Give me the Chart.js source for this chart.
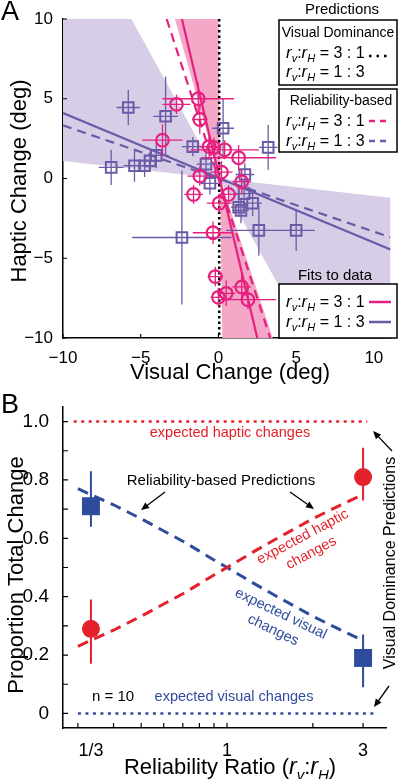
<!DOCTYPE html>
<html>
<head>
<meta charset="utf-8">
<title>Visual and haptic changes</title>
<script src="https://cdn.jsdelivr.net/npm/chart.js@4.4.1/dist/chart.umd.min.js"></script>
<style>
  html, body { margin: 0; padding: 0; background: #fff; }
  body { width: 400px; height: 779px; position: relative; overflow: hidden; }
  .panel { position: absolute; left: 0; width: 400px; }
  #panelA { top: 0; height: 385px; }
  #panelB { top: 385px; height: 394px; }
</style>
</head>
<body>
<div class="panel" id="panelA"><canvas id="chartA"></canvas></div>
<div class="panel" id="panelB"><canvas id="chartB"></canvas></div>
<script>
const FONT = '"Liberation Sans", Arial, Helvetica, sans-serif';

// ---------- Panel A data (deg) ----------
const axisTicksA = [-10, -5, 0, 5, 10];

// rv:rH = 3:1 subjects (pink circles)
const pinkX    = [-1.3, -2.7, -1.2, -3.6, -0.6, -0.3, 0.4, 1.3, 0.2, -1.2, 1.5, -1.6, 0.65, 0.05, -0.35, -0.2, 0.0, 0.5, 1.5, 1.9];
const pinkY    = [5.0, 4.65, 3.7, 2.4, 2.0, 1.95, 1.8, 1.3, 0.4, 0.15, -0.2, -1.0, -1.0, -1.55, -3.4, -6.15, -7.45, -7.2, -6.8, -7.6];
const pinkErrX = [2.3, 0.9, 0.5, 1.3, 0.6, 0.5, 2.2, 2.4, 0.7, 0.8, 0.6, 0.6, 0.6, 0.8, 1.3, 0.5, 0.5, 0.6, 0.6, 1.8];
const pinkErrY = [1.0, 0.6, 0.9, 1.0, 0.8, 0.6, 0.6, 0.8, 0.7, 0.6, 0.8, 0.6, 0.6, 0.6, 0.7, 0.6, 0.6, 0.8, 0.9, 0.6];

// rv:rH = 1:3 subjects (purple squares)
const purpleX    = [-5.8, -3.4, -1.65, -4.0, -4.4, -6.9, -5.4, -4.75, -0.8, 0.3, 3.2, -0.55, 1.7, -2.35, 2.6, 5.0, 1.45, 2.2, 1.65, 1.3];
const purpleY    = [4.45, 3.9, 2.0, 1.45, 1.1, 0.7, 0.8, 0.8, 0.9, 3.15, 1.95, -0.3, 0.25, -3.7, -3.25, -3.25, -2.0, -1.55, -0.95, -1.8];
const purpleErrX = [0.75, 0.8, 0.7, 0.8, 0.6, 0.8, 0.7, 0.6, 0.6, 0.7, 0.6, 0.6, 0.6, 3.2, 2.1, 1.2, 0.5, 0.6, 0.5, 0.5];
const purpleErrY = [1.1, 2.5, 0.6, 0.8, 0.6, 1.1, 1.0, 0.7, 1.0, 1.9, 1.4, 0.7, 0.7, 4.2, 1.6, 1.3, 0.8, 0.8, 0.8, 0.6];

// fitted lines, predictions and confidence wedges
const pinkFitX = [-2.35, 2.5],  pinkFitY = [10, -10];
const pinkPredX = [-3.33, 3.33], pinkPredY = [10, -10];
const purpleFitX = [-10, 11.07], purpleFitY = [4.1, -4.45];
const purplePredX = [-10, 11.07], purplePredY = [3.33, -3.69];
const domX = [0.05, 0.05], domY = [10, -10];
const pinkBandX = [-2.8, 0.0, 0.1, 0.25, 3.5, 0.1];
const pinkBandY = [10, 10, 0, -10, -10, 0];
const purpleBandX = [-10, -5.6, 0.05, 11.07, 11.07, 5.75, 0.05, -10];
const purpleBandY = [10, 10, 0, -1.2, -10, -10, 0, 1.1];

// ---------- Panel B data ----------
const ratioTicks = [1 / 3, 1, 3];
const ratioLabels = ['1/3', '1', '3'];
const ratioMinor = [0.3, 0.4, 0.5, 0.6, 0.7, 0.8, 0.9, 1, 2, 3];
const propTicks = [0, 0.2, 0.4, 0.6, 0.8, 1.0];
const propMinor = [0, 0.1, 0.2, 0.3, 0.4, 0.5, 0.6, 0.7, 0.8, 0.9, 1.0];

const curveX     = [0.3, 0.35, 0.4, 0.5, 0.6, 0.7, 0.8, 0.9, 1, 1.25, 1.5, 1.75, 2, 2.5, 3];
const hapticPred = [0.23, 0.26, 0.285, 0.333, 0.375, 0.41, 0.444, 0.474, 0.5, 0.556, 0.6, 0.636, 0.667, 0.714, 0.75];
const visualPred = [0.77, 0.74, 0.715, 0.667, 0.625, 0.59, 0.556, 0.526, 0.5, 0.444, 0.4, 0.364, 0.333, 0.286, 0.25];
const domHapticX = [0.29, 3.1], domHapticY = [1, 1];
const domVisualX = [0.3, 3.3], domVisualY = [0, 0];

const obsX = [1 / 3, 3];
const hapticObs = [0.29, 0.81], hapticLo = [0.17, 0.73], hapticHi = [0.39, 0.91];
const visualObs = [0.71, 0.19], visualLo = [0.64, 0.09], visualHi = [0.83, 0.27];

const PINK = '#e6207e', PURPLE = '#6b5aa7';
const RED = '#e4202a', BLUE = '#2f4c9c';

const pts = (xs, ys) => xs.map((x, i) => ({ x: x, y: ys[i] }));
const minus = v => String(v).replace('-', '\u2212');

// ---------- helpers ----------
function richText(ctx, parts, x, y, size, align) {
  const fontOf = k => k === 's' ? `italic ${Math.round(size * 0.7)}px ${FONT}`
    : k === 'i' ? `italic ${size + 1}px ${FONT}` : `${size}px ${FONT}`;
  let w = 0;
  parts.forEach(([t, k]) => { ctx.font = fontOf(k); w += ctx.measureText(t).width; });
  let cx = align === 'center' ? x - w / 2 : x;
  ctx.textAlign = 'left';
  ctx.textBaseline = 'alphabetic';
  parts.forEach(([t, k]) => {
    ctx.font = fontOf(k);
    ctx.fillText(t, cx, k === 's' ? y + size * 0.28 : y);
    cx += ctx.measureText(t).width;
  });
}
const ratioParts = (a, b) => [['r', 'i'], ['v', 's'], [':', ''], ['r', 'i'], ['H', 's'], [` = ${a} : ${b}`, '']];

function rotText(ctx, lines, cx, cy, deg, size, color) {
  ctx.save();
  ctx.translate(cx, cy);
  ctx.rotate(deg * Math.PI / 180);
  ctx.font = `${size}px ${FONT}`;
  ctx.fillStyle = color;
  ctx.textAlign = 'center';
  ctx.textBaseline = 'middle';
  const lh = size * 1.25;
  lines.forEach((t, i) => ctx.fillText(t, 0, (i - (lines.length - 1) / 2) * lh));
  ctx.restore();
}

function arrow(ctx, x1, y1, x2, y2) {
  const a = Math.atan2(y2 - y1, x2 - x1), L = 8, W = 3.5;
  const c = Math.cos(a), s = Math.sin(a);
  ctx.strokeStyle = '#000';
  ctx.fillStyle = '#000';
  ctx.lineWidth = 1.3;
  ctx.setLineDash([]);
  ctx.beginPath();
  ctx.moveTo(x1, y1);
  ctx.lineTo(x2 - L * 0.8 * c, y2 - L * 0.8 * s);
  ctx.stroke();
  ctx.beginPath();
  ctx.moveTo(x2, y2);
  ctx.lineTo(x2 - L * c + W * s, y2 - L * s - W * c);
  ctx.lineTo(x2 - L * c - W * s, y2 - L * s + W * c);
  ctx.closePath();
  ctx.fill();
}

function sample(ctx, x1, x2, y, color, dash, width) {
  ctx.strokeStyle = color;
  ctx.lineWidth = width;
  ctx.setLineDash(dash);
  ctx.beginPath();
  ctx.moveTo(x1, y);
  ctx.lineTo(x2, y);
  ctx.stroke();
  ctx.setLineDash([]);
}

function legendBox(ctx, x, y, w, h) {
  ctx.fillStyle = '#fff';
  ctx.fillRect(x, y, w, h);
  ctx.strokeStyle = '#000';
  ctx.lineWidth = 1.5;
  ctx.strokeRect(x, y, w, h);
}

// ---------- plugins ----------
const errorBars = {
  id: 'errorBars',
  beforeDatasetDraw(chart, args) {
    const ds = chart.data.datasets[args.index];
    if (!ds.errY && !ds.yLo) return;
    const { ctx, chartArea: a, scales: { x, y } } = chart;
    ctx.save();
    ctx.beginPath();
    ctx.rect(a.left, a.top, a.right - a.left, a.bottom - a.top);
    ctx.clip();
    ctx.strokeStyle = ds.borderColor;
    ctx.lineWidth = ds.errWidth;
    ctx.beginPath();
    ds.data.forEach((p, i) => {
      const px = x.getPixelForValue(p.x), py = y.getPixelForValue(p.y);
      if (ds.errX) {
        ctx.moveTo(x.getPixelForValue(p.x - ds.errX[i]), py);
        ctx.lineTo(x.getPixelForValue(p.x + ds.errX[i]), py);
      }
      const lo = ds.yLo ? ds.yLo[i] : p.y - ds.errY[i];
      const hi = ds.yHi ? ds.yHi[i] : p.y + ds.errY[i];
      ctx.moveTo(px, y.getPixelForValue(lo));
      ctx.lineTo(px, y.getPixelForValue(hi));
    });
    ctx.stroke();
    ctx.restore();
  }
};

function inwardTicks(xs, ys, len) {
  return {
    id: 'inwardTicks',
    afterDatasetsDraw(chart) {
      const { ctx, chartArea: a, scales: { x, y } } = chart;
      ctx.save();
      ctx.strokeStyle = '#000';
      ctx.lineWidth = 1.2;
      ctx.beginPath();
      xs.forEach(v => { const p = x.getPixelForValue(v); ctx.moveTo(p, a.bottom); ctx.lineTo(p, a.bottom - len); });
      ys.forEach(v => { const p = y.getPixelForValue(v); ctx.moveTo(a.left, p); ctx.lineTo(a.left + len, p); });
      ctx.stroke();
      ctx.restore();
    }
  };
}

const annotA = {
  id: 'annotA',
  afterDraw(chart) {
    const ctx = chart.ctx;
    ctx.save();
    ctx.fillStyle = '#000';
    ctx.textAlign = 'center';
    ctx.textBaseline = 'middle';
    ctx.font = `27px ${FONT}`;
    ctx.fillText('A', 10, 13);
    ctx.font = `22px ${FONT}`;
    ctx.fillText('Visual Change (deg)', 230, 373);
    rotText(ctx, ['Haptic Change (deg)'], 20, 181, -90, 22, '#000');

    ctx.fillStyle = '#000';
    ctx.font = `15px ${FONT}`;
    ctx.textAlign = 'center';
    ctx.textBaseline = 'middle';
    ctx.fillText('Predictions', 342, 10);
    ctx.fillText('Fits to data', 335, 276);

    legendBox(ctx, 279, 20, 118, 65);
    legendBox(ctx, 279, 89, 118, 63);
    legendBox(ctx, 279, 284, 118, 54);

    ctx.fillStyle = '#000';
    ctx.font = `14px ${FONT}`;
    ctx.textAlign = 'center';
    ctx.textBaseline = 'middle';
    ctx.fillText('Visual Dominance', 338, 33);
    ctx.fillText('Reliability-based', 341, 101);

    richText(ctx, ratioParts(3, 1), 286, 58, 16);
    richText(ctx, ratioParts(1, 3), 286, 77, 16);
    sample(ctx, 369, 391, 56, '#000', [2.5, 5], 2.5);

    richText(ctx, ratioParts(3, 1), 286, 126, 16);
    richText(ctx, ratioParts(1, 3), 286, 146, 16);
    sample(ctx, 369, 391, 121, PINK, [6, 5], 2.5);
    sample(ctx, 369, 391, 141, PURPLE, [6, 5], 2.5);

    richText(ctx, ratioParts(3, 1), 286, 307, 16);
    richText(ctx, ratioParts(1, 3), 286, 327, 16);
    sample(ctx, 369, 391, 302, PINK, [], 2.5);
    sample(ctx, 369, 391, 322, PURPLE, [], 2.5);
    ctx.restore();
  }
};

const annotB = {
  id: 'annotB',
  afterDraw(chart) {
    const ctx = chart.ctx;
    ctx.save();
    ctx.fillStyle = '#000';
    ctx.textAlign = 'center';
    ctx.textBaseline = 'middle';
    ctx.font = `27px ${FONT}`;
    ctx.fillText('B', 10, 21);
    rotText(ctx, ['Proportion Total Change'], 17, 190, -90, 22, '#000');
    ctx.fillStyle = '#000';
    richText(ctx, [['Reliability Ratio (', ''], ['r', 'i'], ['v', 's'], [':', ''], ['r', 'i'], ['H', 's'], [')', '']], 230, 389, 22, 'center');

    rotText(ctx, ['expected haptic changes'], 230, 48, 0, 14.5, RED);
    rotText(ctx, ['Reliability-based Predictions'], 221, 96, 0, 15, '#000');
    arrow(ctx, 165, 107, 141, 125);
    arrow(ctx, 290, 107, 314, 124);
    rotText(ctx, ['expected haptic', 'changes'], 307, 160, -28, 14.5, RED);
    rotText(ctx, ['expected visual', 'changes'], 277, 237, 25.6, 14.5, BLUE);
    rotText(ctx, ['n = 10'], 113, 312, 0, 15, '#000');
    rotText(ctx, ['expected visual changes'], 234, 312, 0, 14.5, BLUE);
    rotText(ctx, ['Visual Dominance Predictions'], 391, 178, -90, 16, '#000');
    arrow(ctx, 392, 66, 373, 46);
    arrow(ctx, 389, 301, 374, 322);
    ctx.restore();
  }
};

// ---------- Panel A chart ----------
const lineSet = (data, color, dash, width, order) => ({
  data: data, showLine: true, borderColor: color, borderWidth: width, borderDash: dash,
  pointRadius: 0, pointHoverRadius: 0, fill: false, order: order
});

const chartA = new Chart(document.getElementById('chartA').getContext('2d'), {
  type: 'scatter',
  data: {
    datasets: [
      { data: pts(purpleBandX, purpleBandY), showLine: true, fill: 'shape', backgroundColor: '#d7cde6',
        borderColor: 'rgba(0,0,0,0)', borderWidth: 0, pointRadius: 0, order: 20 },
      { data: pts(pinkBandX, pinkBandY), showLine: true, fill: 'shape', backgroundColor: '#f4a7c7',
        borderColor: 'rgba(0,0,0,0)', borderWidth: 0, pointRadius: 0, order: 19 },
      lineSet(pts(domX, domY), '#000', [2.5, 3], 2.5, 10),
      lineSet(pts(purplePredX, purplePredY), PURPLE, [9, 6], 2.2, 9),
      lineSet(pts(purpleFitX, purpleFitY), PURPLE, [], 2.2, 8),
      lineSet(pts(pinkPredX, pinkPredY), PINK, [9, 6], 2.2, 7),
      lineSet(pts(pinkFitX, pinkFitY), PINK, [], 2.2, 6),
      { data: pts(purpleX, purpleY), errX: purpleErrX, errY: purpleErrY, errWidth: 1.3,
        pointStyle: 'rect', pointRadius: 7.5, borderWidth: 2, borderColor: PURPLE,
        backgroundColor: 'rgba(0,0,0,0)', order: 2 },
      { data: pts(pinkX, pinkY), errX: pinkErrX, errY: pinkErrY, errWidth: 1.3,
        pointStyle: 'circle', pointRadius: 6.3, borderWidth: 2.2, borderColor: PINK,
        backgroundColor: 'rgba(0,0,0,0)', order: 1 }
    ]
  },
  options: {
    responsive: true,
    maintainAspectRatio: false,
    animation: false,
    layout: { padding: { top: 19, right: 3, left: 0, bottom: 0 } },
    plugins: { legend: { display: false }, tooltip: { enabled: false } },
    scales: {
      x: {
        type: 'linear', min: -10, max: 11.07, bounds: 'data',
        grid: { display: false },
        border: { display: true, color: '#000', width: 1.5 },
        ticks: { color: '#000', font: { size: 17, family: FONT }, padding: 2, maxRotation: 0, autoSkip: false, callback: v => minus(v) },
        afterBuildTicks: s => { s.ticks = axisTicksA.map(v => ({ value: v })); },
        afterFit: s => { s.height = 47; }
      },
      y: {
        type: 'linear', min: -10, max: 10, bounds: 'data',
        grid: { display: false },
        border: { display: true, color: '#000', width: 1.5 },
        ticks: { color: '#000', font: { size: 17, family: FONT }, padding: 2, autoSkip: false, callback: v => minus(v) },
        afterBuildTicks: s => { s.ticks = axisTicksA.map(v => ({ value: v })); },
        afterFit: s => { s.width = 63; }
      }
    }
  },
  plugins: [errorBars, inwardTicks(axisTicksA, axisTicksA, 4), annotA]
});

// ---------- Panel B chart ----------
const chartB = new Chart(document.getElementById('chartB').getContext('2d'), {
  type: 'scatter',
  data: {
    datasets: [
      lineSet(pts(domHapticX, domHapticY), RED, [3, 4.5], 2.5, 10),
      lineSet(pts(domVisualX, domVisualY), BLUE, [3, 4.5], 2.5, 10),
      lineSet(pts(curveX, hapticPred), RED, [11, 7], 3, 8),
      lineSet(pts(curveX, visualPred), BLUE, [11, 7], 3, 8),
      { data: pts(obsX, visualObs), yLo: visualLo, yHi: visualHi, errWidth: 2,
        pointStyle: 'rect', pointRadius: 12.7, borderWidth: 0, borderColor: BLUE,
        backgroundColor: BLUE, order: 2 },
      { data: pts(obsX, hapticObs), yLo: hapticLo, yHi: hapticHi, errWidth: 2,
        pointStyle: 'circle', pointRadius: 9, borderWidth: 0, borderColor: RED,
        backgroundColor: RED, order: 1 }
    ]
  },
  options: {
    responsive: true,
    maintainAspectRatio: false,
    animation: false,
    layout: { padding: { top: 22, right: 14, left: 0, bottom: 0 } },
    plugins: { legend: { display: false }, tooltip: { enabled: false } },
    scales: {
      x: {
        type: 'logarithmic', min: 0.266, max: 3.61, bounds: 'data',
        grid: { display: false },
        border: { display: true, color: '#000', width: 1.5 },
        ticks: { color: '#000', font: { size: 18, family: FONT }, padding: 4, maxRotation: 0, autoSkip: false,
                 callback: (v, i) => ratioLabels[i] },
        afterBuildTicks: s => { s.ticks = ratioTicks.map(v => ({ value: v })); },
        afterFit: s => { s.height = 51; }
      },
      y: {
        type: 'linear', min: -0.05, max: 1.05, bounds: 'data',
        grid: { display: false },
        border: { display: true, color: '#000', width: 1.5 },
        ticks: { color: '#000', font: { size: 19, family: FONT }, padding: 6, autoSkip: false,
                 callback: v => v === 0 ? '0' : v.toFixed(1) },
        afterBuildTicks: s => { s.ticks = propTicks.map(v => ({ value: v })); },
        afterFit: s => { s.width = 63; }
      }
    }
  },
  plugins: [errorBars, inwardTicks(ratioMinor, propMinor, 5), annotB]
});
</script>
</body>
</html>
